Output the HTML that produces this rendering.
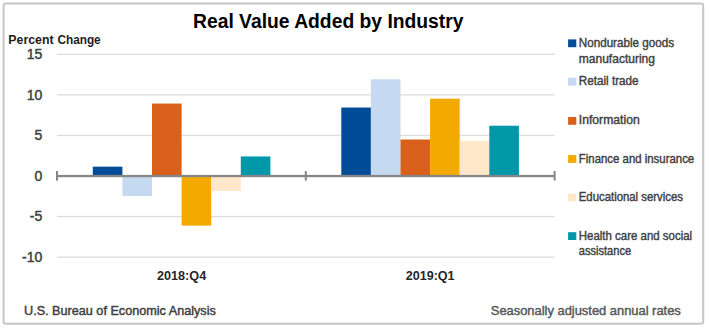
<!DOCTYPE html>
<html><head><meta charset="utf-8"><style>
html,body{margin:0;padding:0;background:#fff;}
body{width:710px;height:330px;overflow:hidden;}
svg{display:block;font-family:"Liberation Sans",sans-serif;}
</style></head><body>
<svg width="710" height="330" viewBox="0 0 710 330">
<rect x="57" y="53.67" width="497.6" height="1.3" fill="#DDDDDD"/>
<rect x="57" y="94.23" width="497.6" height="1.3" fill="#DDDDDD"/>
<rect x="57" y="134.79" width="497.6" height="1.3" fill="#DDDDDD"/>
<rect x="57" y="215.91" width="497.6" height="1.3" fill="#DDDDDD"/>
<rect x="57" y="256.47" width="497.6" height="1.3" fill="#DDDDDD"/>
<rect x="92.80" y="166.67" width="29.60" height="9.33" fill="#004C97"/>
<rect x="122.40" y="176.00" width="29.60" height="19.96" fill="#C5D9F0"/>
<rect x="152.00" y="103.56" width="29.60" height="72.44" fill="#D9601A"/>
<rect x="181.60" y="176.00" width="29.60" height="49.65" fill="#F2AA00"/>
<rect x="211.20" y="176.00" width="29.60" height="15.01" fill="#FFE8C9"/>
<rect x="240.80" y="156.45" width="29.60" height="19.55" fill="#0097A9"/>
<rect x="341.30" y="107.53" width="29.60" height="68.47" fill="#004C97"/>
<rect x="370.90" y="79.30" width="29.60" height="96.70" fill="#C5D9F0"/>
<rect x="400.50" y="139.50" width="29.60" height="36.50" fill="#D9601A"/>
<rect x="430.10" y="98.69" width="29.60" height="77.31" fill="#F2AA00"/>
<rect x="459.70" y="140.88" width="29.60" height="35.12" fill="#FFE8C9"/>
<rect x="489.30" y="125.71" width="29.60" height="50.29" fill="#0097A9"/>
<rect x="57" y="174.90" width="497.6" height="2.3" fill="#868686"/>
<rect x="56.00" y="171" width="2" height="9.6" fill="#868686"/>
<rect x="304.80" y="171" width="2" height="9.6" fill="#868686"/>
<rect x="553.60" y="171" width="2" height="9.6" fill="#868686"/>
<rect x="568.1" y="39.40" width="8.2" height="7.8" fill="#004C97"/>
<rect x="568.1" y="77.80" width="8.2" height="7.8" fill="#C5D9F0"/>
<rect x="568.1" y="117.00" width="8.2" height="7.8" fill="#D9601A"/>
<rect x="568.1" y="155.10" width="8.2" height="7.8" fill="#F2AA00"/>
<rect x="568.1" y="193.60" width="8.2" height="7.8" fill="#FFE8C9"/>
<rect x="568.1" y="232.20" width="8.2" height="7.8" fill="#0097A9"/>
<rect x="3.6" y="3.6" width="699.6" height="320.2" rx="2" ry="2" fill="none" stroke="#C6C6C6" stroke-width="2"/>
<text x="193.0" y="27.5" font-size="19.5" fill="#000000" font-weight="bold" textLength="270.5" lengthAdjust="spacingAndGlyphs">Real Value Added by Industry</text>
<text x="8.3" y="43.6" font-size="12.3" fill="#1e1e1e" font-weight="bold" textLength="45.3" lengthAdjust="spacingAndGlyphs">Percent</text>
<text x="57.4" y="43.6" font-size="12.3" fill="#1e1e1e" font-weight="bold" textLength="43.3" lengthAdjust="spacingAndGlyphs">Change</text>
<text x="42.3" y="59.2" font-size="14" fill="#404040" text-anchor="end" stroke="#404040" stroke-width="0.45">15</text>
<text x="42.3" y="99.8" font-size="14" fill="#404040" text-anchor="end" stroke="#404040" stroke-width="0.45">10</text>
<text x="42.3" y="140.2" font-size="14" fill="#404040" text-anchor="end" stroke="#404040" stroke-width="0.45">5</text>
<text x="42.3" y="181.1" font-size="14" fill="#404040" text-anchor="end" stroke="#404040" stroke-width="0.45">0</text>
<text x="42.3" y="220.8" font-size="14" fill="#404040" text-anchor="end" stroke="#404040" stroke-width="0.45">-5</text>
<text x="42.3" y="261.8" font-size="14" fill="#404040" text-anchor="end" stroke="#404040" stroke-width="0.45">-10</text>
<text x="157.0" y="279.6" font-size="13" fill="#262626" font-weight="bold" textLength="49.2" lengthAdjust="spacingAndGlyphs">2018:Q4</text>
<text x="405.7" y="279.6" font-size="13" fill="#262626" font-weight="bold" textLength="48.9" lengthAdjust="spacingAndGlyphs">2019:Q1</text>
<text x="578.8" y="47.2" font-size="11.9" fill="#404040" textLength="95.2" lengthAdjust="spacingAndGlyphs" stroke="#404040" stroke-width="0.4">Nondurable goods</text>
<text x="578.8" y="62.7" font-size="11.9" fill="#404040" textLength="76.2" lengthAdjust="spacingAndGlyphs" stroke="#404040" stroke-width="0.4">manufacturing</text>
<text x="578.8" y="84.9" font-size="11.9" fill="#404040" textLength="59.8" lengthAdjust="spacingAndGlyphs" stroke="#404040" stroke-width="0.4">Retail trade</text>
<text x="578.8" y="124.1" font-size="11.9" fill="#404040" textLength="60.9" lengthAdjust="spacingAndGlyphs" stroke="#404040" stroke-width="0.4">Information</text>
<text x="578.8" y="162.6" font-size="11.9" fill="#404040" textLength="115.4" lengthAdjust="spacingAndGlyphs" stroke="#404040" stroke-width="0.4">Finance and insurance</text>
<text x="578.8" y="201.2" font-size="11.9" fill="#404040" textLength="104.1" lengthAdjust="spacingAndGlyphs" stroke="#404040" stroke-width="0.4">Educational services</text>
<text x="578.8" y="239.5" font-size="11.9" fill="#404040" textLength="113.3" lengthAdjust="spacingAndGlyphs" stroke="#404040" stroke-width="0.4">Health care and social</text>
<text x="578.8" y="254.9" font-size="11.9" fill="#404040" textLength="52.3" lengthAdjust="spacingAndGlyphs" stroke="#404040" stroke-width="0.4">assistance</text>
<text x="24.0" y="315.1" font-size="12.8" fill="#404040" textLength="191.8" lengthAdjust="spacingAndGlyphs" stroke="#404040" stroke-width="0.45">U.S. Bureau of Economic Analysis</text>
<text x="490.8" y="315.2" font-size="12.8" fill="#595959" textLength="190" lengthAdjust="spacingAndGlyphs" stroke="#595959" stroke-width="0.45">Seasonally adjusted annual rates</text>
</svg>
</body></html>
